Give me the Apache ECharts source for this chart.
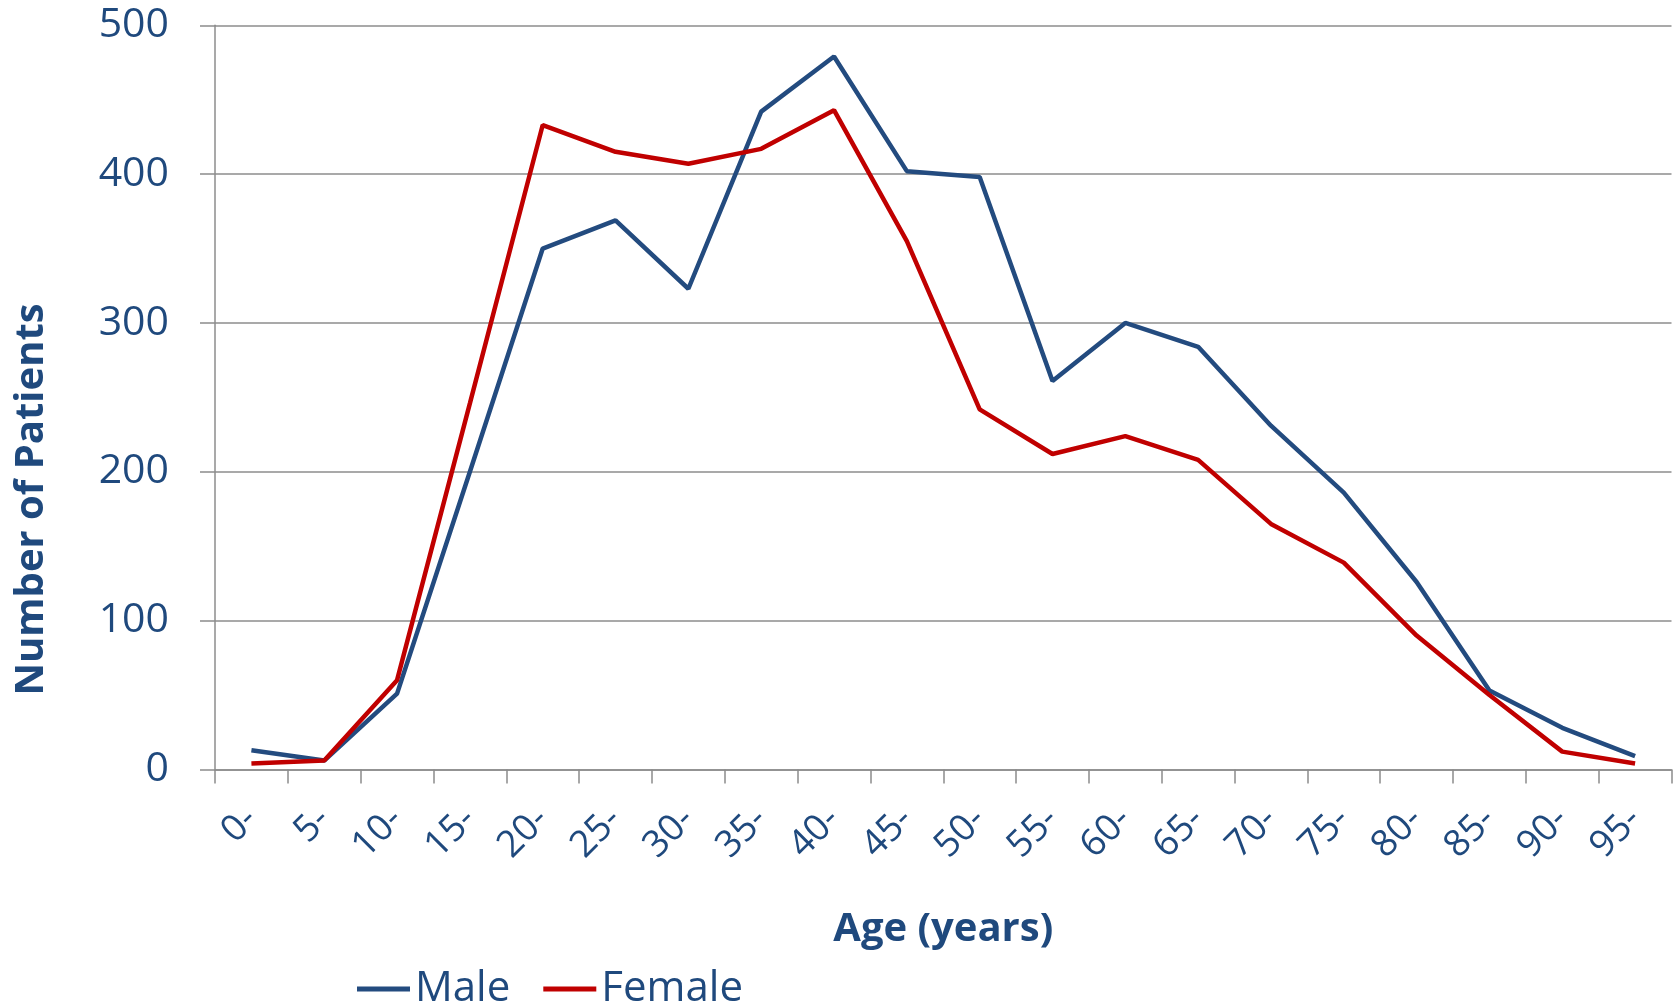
<!DOCTYPE html>
<html>
<head>
<meta charset="utf-8">
<script src="https://cdn.jsdelivr.net/npm/echarts@6/dist/echarts.min.js"></script>
<style>
  html, body { margin: 0; padding: 0; background: #ffffff; }
  #chart { width: 1680px; height: 1007px; }
</style>
</head>
<body>
<div id="chart"></div>
<script>
// Age groups (lower bound of each 5-year band)
const ageGroups = ['0-', '5-', '10-', '15-', '20-', '25-', '30-', '35-', '40-', '45-',
                   '50-', '55-', '60-', '65-', '70-', '75-', '80-', '85-', '90-', '95-'];

// Patient counts per age group
const malePatients   = [13, 6, 51, 200, 350, 369, 323, 442, 479, 402,
                        398, 261, 300, 284, 231, 186, 126, 53, 28, 9];
const femalePatients = [4, 6, 60, 246, 433, 415, 407, 417, 443, 355,
                        242, 212, 224, 208, 165, 139, 90, 50, 12, 4];

// Value axis ticks
const yMin = 0, yMax = 500, yStep = 100;

const textBlue = '#1F497D';
const maleColor = '#234B7F';
const femaleColor = '#C00000';
const gridGray = '#8C8C8C';
const font = "'Open Sans', 'Liberation Sans', sans-serif";

const chart = echarts.init(document.getElementById('chart'), null, { renderer: 'canvas' });

chart.setOption({
  animation: false,
  backgroundColor: '#ffffff',
  textStyle: { fontFamily: font, color: textBlue },
  grid: { left: 215, right: 8.5, top: 25.3, bottom: 237.5, containLabel: false },
  legend: {
    left: 357,
    top: 968,
    padding: 0,
    icon: 'rect',
    itemWidth: 53,
    itemHeight: 5,
    itemGap: 33,
    textStyle: { fontFamily: font, fontSize: 42, color: textBlue },
    data: ['Male', 'Female']
  },
  xAxis: {
    type: 'category',
    data: ageGroups,
    boundaryGap: true,
    name: 'Age (years)',
    nameLocation: 'middle',
    nameGap: 140,
    nameTextStyle: { fontFamily: font, fontSize: 40, fontWeight: 'bold', color: textBlue },
    axisLine: { show: true, lineStyle: { color: gridGray, width: 1.5 } },
    axisTick: { show: true, length: 14, lineStyle: { color: gridGray, width: 1.5 } },
    axisLabel: { rotate: 45, margin: 44, fontSize: 37, color: textBlue, fontFamily: font, interval: 0 }
  },
  yAxis: {
    type: 'value',
    min: yMin,
    max: yMax,
    interval: yStep,
    name: 'Number of Patients',
    nameLocation: 'middle',
    nameGap: 163,
    nameTextStyle: { fontFamily: font, fontSize: 40, fontWeight: 'bold', color: textBlue, padding: [0, 204, 0, 0] },
    axisLine: { show: true, lineStyle: { color: gridGray, width: 1.5 } },
    axisTick: { show: true, length: 15, lineStyle: { color: gridGray, width: 1.5 } },
    splitLine: { show: true, lineStyle: { color: gridGray, width: 1.5 } },
    axisLabel: { margin: 46, fontSize: 41, color: textBlue, fontFamily: font }
  },
  series: [
    {
      name: 'Male',
      type: 'line',
      data: malePatients,
      symbol: 'none',
      lineStyle: { color: maleColor, width: 4.5 },
      itemStyle: { color: maleColor }
    },
    {
      name: 'Female',
      type: 'line',
      data: femalePatients,
      symbol: 'none',
      lineStyle: { color: femaleColor, width: 4.5 },
      itemStyle: { color: femaleColor }
    }
  ]
});
</script>
</body>
</html>
